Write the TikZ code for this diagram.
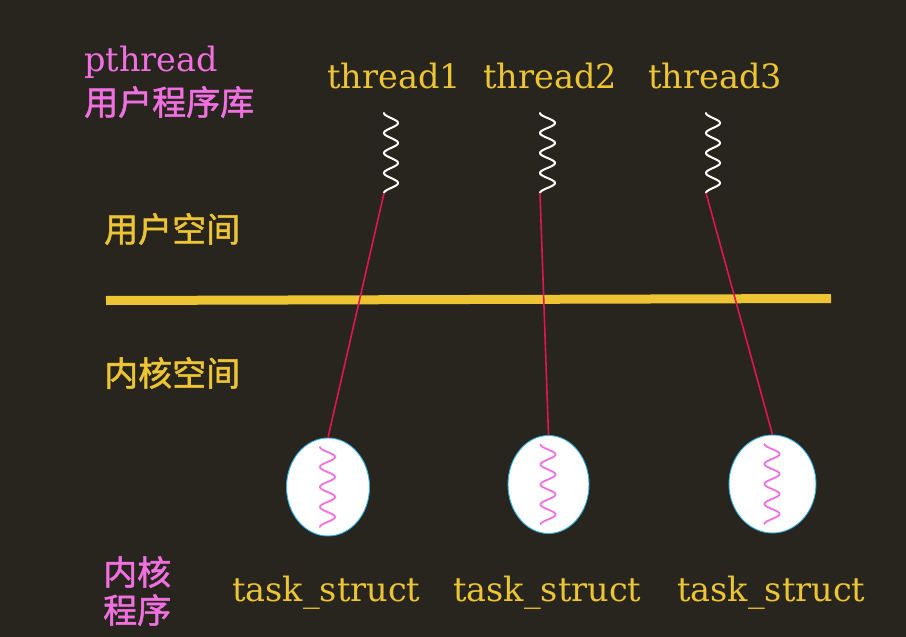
\documentclass[tikz,border=0pt]{standalone}
\usepackage{fontspec}
\usetikzlibrary{shapes.geometric}
\setmainfont{DejaVu Serif}
\newfontfamily\cjk[FakeBold=1.5]{Noto Sans CJK SC}
\definecolor{bg}{RGB}{40,37,30}
\definecolor{ylw}{RGB}{236,196,52}
\definecolor{pnk}{RGB}{240,112,224}
\definecolor{rd}{RGB}{226,20,80}
\definecolor{cyn}{RGB}{48,176,224}
\begin{document}
\begin{tikzpicture}[x=1pt,y=-1pt,
  lat/.style={text=ylw,font=\fontsize{33.5}{38}\selectfont,inner sep=0pt,anchor=base west},
  zh/.style={font=\cjk\fontsize{34}{38}\selectfont,inner sep=0pt,anchor=west},
  taskbox/.style={ellipse,draw=cyn,fill=white,line width=0.9pt,minimum width=83pt,minimum height=98pt,inner sep=0pt},
  link/.style={draw=rd,line width=1.6pt},
  wavew/.style={white,line width=2pt,line cap=round},
  wavep/.style={pnk,line width=1.8pt,line cap=round},
  divider/.style={ylw,line width=9pt}]
\fill[bg] (0,0) rectangle (906,637);
\useasboundingbox (0,0) rectangle (906,637);

% left labels
\node[lat,text=pnk] (pth) at (84,71) {pthread};
\node[zh,text=pnk] (lib) at (84,102) {用户程序库};
\node[zh,text=ylw] (us) at (104,229) {用户空间};
\node[zh,text=ylw] (ks) at (104,373) {内核空间};
\node[zh,text=pnk,align=left] (kp) at (103,591) {内核\\程序};

% thread labels
\node[lat] (t1) at (327,88) {thread1};
\node[lat] (t2) at (483,88) {thread2};
\node[lat] (t3) at (648,88) {thread3};

% divider
\coordinate (dl) at (106,300.5);
\coordinate (dr) at (831,298.5);
\draw[divider] (dl) -- (dr);

% user-level waves
\draw[wavew] plot[domain=0:80,samples=121,smooth] ({384+7-7*cos(18*\x)},{113+\x});
\draw[wavew] plot[domain=0:80,samples=121,smooth] ({540+7.5-7.5*cos(18*\x)},{113+\x});
\draw[wavew] plot[domain=0:80,samples=121,smooth] ({706+7-7*cos(18*\x)},{113+\x});
\coordinate (w1) at (384,193);
\coordinate (w2) at (540,193);
\coordinate (w3) at (706,193);

% kernel tasks
\node[taskbox] (e1) at (328,487) {};
\node[taskbox,minimum width=81pt] (e2) at (548.5,484.5) {};
\node[taskbox,minimum width=87pt] (e3) at (772.5,484) {};
\draw[wavep] plot[domain=0:80,samples=121,smooth] ({320+7.5-7.5*cos(18*\x)},{447+\x});
\draw[wavep] plot[domain=0:80,samples=121,smooth] ({540.5+7.5-7.5*cos(18*\x)},{444.5+\x});
\draw[wavep] plot[domain=0:80,samples=121,smooth] ({764.5+7.5-7.5*cos(18*\x)},{444+\x});

% links
\draw[link] (w1) -- (e1.north);
\draw[link] (w2) -- (e2.north);
\draw[link] (w3) -- (e3.north);

% task_struct labels
\node[lat] (s1) at (232,601) {task\_struct};
\node[lat] (s2) at (453,601) {task\_struct};
\node[lat] (s3) at (677,601) {task\_struct};
\end{tikzpicture}
\end{document}
